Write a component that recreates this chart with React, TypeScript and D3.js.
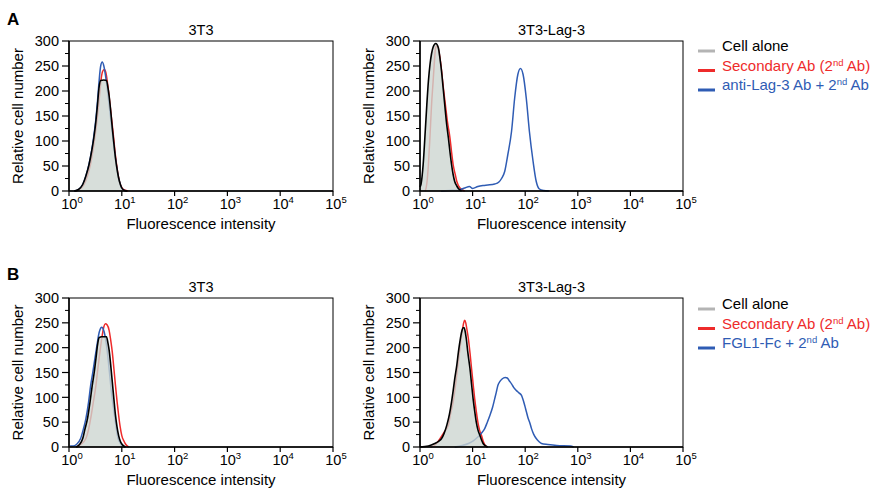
import React from "react";
import * as d3 from "d3";

// each point: [log10 fluorescence intensity, relative cell number]
type Pt = [number, number];

// Panel A, 3T3
const aLeftCell: Pt[] = [[0.10,0],[0.18,3],[0.26,13],[0.32,30],[0.38,53],[0.43,80],[0.47,106],[0.51,140],[0.54,173],[0.57,208],[0.60,221],[0.66,222],[0.71,221],[0.74,205],[0.76,190],[0.79,160],[0.82,126],[0.85,95],[0.88,66],[0.91,44],[0.94,26],[0.97,14],[1.0,6],[1.05,1],[1.10,0]];
const aLeftSecondary: Pt[] = [[0.12,0],[0.2,3],[0.28,12],[0.35,30],[0.41,55],[0.46,85],[0.5,115],[0.54,150],[0.58,192],[0.61,225],[0.64,240],[0.67,243],[0.70,236],[0.73,215],[0.77,180],[0.80,150],[0.84,112],[0.87,80],[0.90,54],[0.93,32],[0.96,17],[1.0,7],[1.05,2],[1.12,0]];
const aLeftAntibody: Pt[] = [[0.10,0],[0.18,3],[0.26,13],[0.32,30],[0.38,54],[0.43,82],[0.47,110],[0.51,145],[0.54,180],[0.57,220],[0.60,250],[0.63,258],[0.66,250],[0.69,232],[0.72,208],[0.76,172],[0.80,135],[0.84,98],[0.88,64],[0.91,42],[0.94,25],[0.97,13],[1.0,5],[1.05,1],[1.10,0]];

// Panel A, 3T3-Lag-3
const aRightCell: Pt[] = [[0.0,8],[0.02,14],[0.06,53],[0.10,120],[0.13,173],[0.16,220],[0.19,253],[0.22,275],[0.25,288],[0.30,295],[0.35,286],[0.38,265],[0.41,239],[0.44,206],[0.47,173],[0.50,140],[0.54,106],[0.57,78],[0.60,53],[0.63,33],[0.66,19],[0.70,10],[0.73,5],[0.79,0]];
const aRightSecondary: Pt[] = [[0.10,0],[0.13,15],[0.16,53],[0.19,110],[0.22,173],[0.25,220],[0.27,253],[0.30,288],[0.33,290],[0.36,278],[0.40,250],[0.44,210],[0.48,175],[0.52,140],[0.57,106],[0.60,78],[0.63,53],[0.67,33],[0.70,19],[0.76,6],[0.85,0]];
const aRightAntibody: Pt[] = [[0.40,0],[0.55,1],[0.73,2],[0.85,6],[0.94,9],[1.0,5],[1.1,9],[1.2,11],[1.29,12],[1.42,14],[1.50,18],[1.55,25],[1.61,39],[1.67,73],[1.74,119],[1.80,186],[1.86,233],[1.91,245],[1.96,233],[2.02,186],[2.08,119],[2.15,59],[2.21,19],[2.27,4],[2.35,1],[2.45,0]];

// Panel B, 3T3
const bLeftCell: Pt[] = [[0.13,0],[0.20,5],[0.26,17],[0.30,35],[0.35,57],[0.40,92],[0.44,124],[0.48,152],[0.51,178],[0.54,205],[0.57,220],[0.62,222],[0.71,222],[0.74,208],[0.76,195],[0.79,165],[0.82,131],[0.85,97],[0.88,64],[0.91,40],[0.94,23],[0.97,12],[1.0,6],[1.07,0]];
const bLeftSecondary: Pt[] = [[0.15,0],[0.22,5],[0.32,17],[0.37,35],[0.41,57],[0.46,90],[0.51,124],[0.54,152],[0.57,178],[0.60,203],[0.63,225],[0.66,242],[0.69,248],[0.72,246],[0.76,235],[0.79,215],[0.82,191],[0.85,158],[0.88,124],[0.91,92],[0.94,64],[0.97,40],[1.0,23],[1.04,12],[1.07,6],[1.13,0]];
const bLeftAntibody: Pt[] = [[0.02,2],[0.08,2],[0.14,5],[0.22,17],[0.27,35],[0.32,57],[0.37,90],[0.41,124],[0.45,150],[0.49,178],[0.53,205],[0.56,225],[0.59,237],[0.62,241],[0.65,237],[0.68,225],[0.71,205],[0.74,178],[0.77,146],[0.80,114],[0.84,80],[0.87,57],[0.90,34],[0.93,17],[0.97,8],[1.0,3],[1.07,0]];

// Panel B, 3T3-Lag-3
const bRightCell: Pt[] = [[0.0,0],[0.16,2],[0.28,7],[0.36,12],[0.41,17],[0.46,28],[0.51,44],[0.56,66],[0.60,91],[0.63,113],[0.66,137],[0.70,165],[0.73,191],[0.76,213],[0.79,231],[0.82,240],[0.84,240],[0.86,232],[0.88,218],[0.91,190],[0.95,158],[0.98,127],[1.01,97],[1.04,72],[1.07,50],[1.10,35],[1.14,23],[1.17,14],[1.2,7],[1.25,2],[1.29,0]];
const bRightSecondary: Pt[] = [[0.2,0],[0.30,5],[0.38,17],[0.46,30],[0.54,44],[0.58,66],[0.63,91],[0.66,113],[0.69,137],[0.72,165],[0.75,191],[0.78,216],[0.81,238],[0.83,250],[0.85,255],[0.87,250],[0.89,238],[0.92,218],[0.95,190],[0.98,158],[1.01,127],[1.04,97],[1.07,72],[1.10,50],[1.13,35],[1.17,23],[1.20,12],[1.24,3],[1.28,0]];
const bRightAntibody: Pt[] = [[0.66,0],[0.80,3],[0.92,7],[1.02,13],[1.10,20],[1.17,28],[1.23,37],[1.28,50],[1.33,64],[1.38,80],[1.42,97],[1.45,110],[1.48,124],[1.52,132],[1.56,137],[1.62,140],[1.66,139],[1.70,133],[1.74,127],[1.78,120],[1.83,114],[1.88,109],[1.93,104],[1.96,95],[1.99,84],[2.02,72],[2.05,60],[2.09,48],[2.12,37],[2.16,26],[2.21,17],[2.26,11],[2.31,7],[2.43,5],[2.6,3],[2.86,2],[2.92,0]];

const xTickExps = [0, 1, 2, 3, 4, 5];
const yTicks = [0, 50, 100, 150, 200, 250, 300];
const yMinorTicks = [25, 75, 125, 175, 225, 275];

const legendA = ["Cell alone", "Secondary Ab (2^nd Ab)", "anti-Lag-3 Ab + 2^nd Ab"];
const legendB = ["Cell alone", "Secondary Ab (2^nd Ab)", "FGL1-Fc + 2^nd Ab"];

const FONT = "Arial, 'Liberation Sans', Helvetica, sans-serif";
const GRAY_LINE = "#b4b4b4";
const FILL = "#cdd6d1";
const RED = "#ee2b2b";
const BLUE = "#2f5cb4";

type HistProps = {
  left: number;
  right: number;
  top: number;
  bottom: number;
  title: string;
  cell: Pt[];
  secondary: Pt[];
  antibody: Pt[];
};

function Histogram({ left, right, top, bottom, title, cell, secondary, antibody }: HistProps) {
  const x = d3.scaleLog().domain([1, 1e5]).range([left, right]);
  const y = d3.scaleLinear().domain([0, 300]).range([bottom, top]);
  const line = d3
    .line<Pt>()
    .x((d) => x(10 ** d[0]))
    .y((d) => y(d[1]))
    .curve(d3.curveMonotoneX);
  const area = d3
    .area<Pt>()
    .x((d) => x(10 ** d[0]))
    .y0(y(0))
    .y1((d) => y(d[1]))
    .curve(d3.curveMonotoneX);
  const midY = (top + bottom) / 2;

  return (
    <g fontFamily={FONT}>
      <text x={(left + right) / 2} y={top - 6} textAnchor="middle" fontSize={14.5}>
        {title}
      </text>
      <path d={line(secondary) || ""} fill="none" stroke={RED} strokeWidth={1.5} />
      <path d={line(antibody) || ""} fill="none" stroke={BLUE} strokeWidth={1.5} />
      <path d={area(cell) || ""} fill={FILL} opacity={0.8} />
      <path d={line(cell) || ""} fill="none" stroke="#000" strokeWidth={1.6} />
      {/* frame */}
      <rect x={left} y={top} width={right - left} height={bottom - top} fill="none" stroke="#000" strokeWidth={1} />
      <line x1={left} x2={left} y1={top} y2={bottom} stroke="#000" strokeWidth={1.5} />
      <line x1={left} x2={right} y1={bottom} y2={bottom} stroke="#000" strokeWidth={1.5} />
      {/* y axis */}
      {yTicks.map((t) => (
        <g key={t}>
          <line x1={left - 7} x2={left} y1={y(t)} y2={y(t)} stroke="#000" strokeWidth={1.2} />
          <text x={left - 10} y={y(t)} dy="0.36em" textAnchor="end" fontSize={14.5}>
            {t}
          </text>
        </g>
      ))}
      {yMinorTicks.map((t) => (
        <line key={t} x1={left - 4} x2={left} y1={y(t)} y2={y(t)} stroke="#000" strokeWidth={1} />
      ))}
      <text
        transform={`translate(${left - 46},${midY}) rotate(-90)`}
        textAnchor="middle"
        fontSize={15}
      >
        Relative cell number
      </text>
      {/* x axis */}
      {xTickExps.map((e) => (
        <g key={e}>
          <line x1={x(10 ** e)} x2={x(10 ** e)} y1={bottom} y2={bottom + 5} stroke="#000" strokeWidth={1.2} />
          <text x={x(10 ** e) + 3} y={bottom + 18} textAnchor="middle" fontSize={14.5}>
            10
            <tspan dy={-6} fontSize={9.5}>
              {e}
            </tspan>
          </text>
        </g>
      ))}
      <text x={(left + right) / 2} y={bottom + 38} textAnchor="middle" fontSize={15}>
        Fluorescence intensity
      </text>
    </g>
  );
}

function Legend({ x0, y0, labels }: { x0: number; y0: number; labels: string[] }) {
  const colors = ["#000", RED, BLUE];
  const lineColors = [GRAY_LINE, RED, BLUE];
  return (
    <g fontFamily={FONT} fontSize={15}>
      {labels.map((lab, i) => {
        const yy = y0 + i * 19.5;
        const parts = lab.split(/(\^\w+)/).filter((p) => p.length > 0);
        let shifted = false;
        return (
          <g key={i}>
            <line x1={x0} x2={x0 + 17} y1={yy} y2={yy} stroke={lineColors[i]} strokeWidth={3} />
            <text x={x0 + 24} y={yy} dy="0.36em" fill={colors[i]}>
              {parts.map((p, j) => {
                if (p.startsWith("^")) {
                  shifted = true;
                  return (
                    <tspan key={j} dy={-5} fontSize={9.5}>
                      {p.slice(1)}
                    </tspan>
                  );
                }
                const dy = shifted ? 5 : 0;
                shifted = false;
                return (
                  <tspan key={j} dy={dy}>
                    {p}
                  </tspan>
                );
              })}
            </text>
          </g>
        );
      })}
    </g>
  );
}

export default function App() {
  return (
    <svg
      width={870}
      height={489}
      style={{ position: "absolute", left: 0, top: 0, background: "#fff" }}
    >
      <text x={7} y={25} fontFamily={FONT} fontSize={17} fontWeight="bold">
        A
      </text>
      <text x={7} y={280} fontFamily={FONT} fontSize={17} fontWeight="bold">
        B
      </text>
      <Histogram left={69} right={333} top={41} bottom={191} title="3T3" cell={aLeftCell} secondary={aLeftSecondary} antibody={aLeftAntibody} />
      <Histogram left={420} right={683} top={41} bottom={191} title="3T3-Lag-3" cell={aRightCell} secondary={aRightSecondary} antibody={aRightAntibody} />
      <Histogram left={69} right={333} top={298} bottom={447} title="3T3" cell={bLeftCell} secondary={bLeftSecondary} antibody={bLeftAntibody} />
      <Histogram left={420} right={683} top={298} bottom={447} title="3T3-Lag-3" cell={bRightCell} secondary={bRightSecondary} antibody={bRightAntibody} />
      <Legend x0={698} y0={51} labels={legendA} />
      <Legend x0={698} y0={309} labels={legendB} />
    </svg>
  );
}
